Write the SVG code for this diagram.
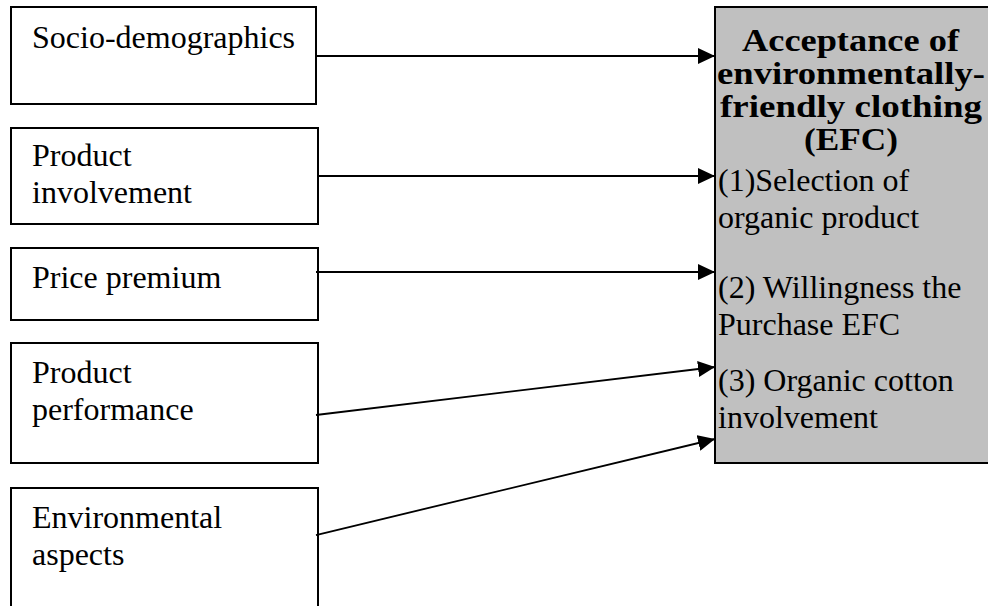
<svg xmlns="http://www.w3.org/2000/svg" width="988" height="606" viewBox="0 0 988 606">
  <style>
    .box { fill: #ffffff; stroke: #000000; stroke-width: 2; }
    .target { fill: #c0c0c0; stroke: #000000; stroke-width: 2; }
    .lbl { font-family: "Liberation Serif", "Times New Roman", serif; font-size: 32px; fill: #000000; }
    .title { font-family: "Liberation Serif", "Times New Roman", serif; font-size: 32px; font-weight: bold; fill: #000000; }
    .edge { fill: none; stroke: #000000; stroke-width: 1.8; marker-end: url(#arrow); }
  </style>
  <defs>
    <marker id="arrow" markerUnits="userSpaceOnUse" markerWidth="17" markerHeight="16" refX="17" refY="8" orient="auto">
      <path d="M0,0 L17,8 L0,16 Z" fill="#000000"/>
    </marker>
  </defs>
  <rect width="988" height="606" fill="#ffffff"/>

  <g id="socio-demographics">
    <rect class="box" x="11" y="7" width="305" height="97"/>
    <text class="lbl" x="32" y="48">Socio-demographics</text>
  </g>

  <g id="product-involvement">
    <rect class="box" x="11" y="128" width="307" height="96"/>
    <text class="lbl" x="32" y="166">Product</text>
    <text class="lbl" x="32" y="203">involvement</text>
  </g>

  <g id="price-premium">
    <rect class="box" x="11" y="248" width="307" height="72"/>
    <text class="lbl" x="32" y="288">Price premium</text>
  </g>

  <g id="product-performance">
    <rect class="box" x="11" y="343" width="307" height="120"/>
    <text class="lbl" x="32" y="383">Product</text>
    <text class="lbl" x="32" y="420">performance</text>
  </g>

  <g id="environmental-aspects">
    <rect class="box" x="11" y="488" width="307" height="130"/>
    <text class="lbl" x="32" y="528">Environmental</text>
    <text class="lbl" x="32" y="565">aspects</text>
  </g>

  <g id="efc-acceptance">
    <rect class="target" x="715" y="7" width="285" height="456"/>
    <!-- bold heading, set wide and tight-leaded -->
    <text class="title" x="742" y="51" textLength="217" lengthAdjust="spacingAndGlyphs">Acceptance of</text>
    <text class="title" x="717" y="84" textLength="268" lengthAdjust="spacingAndGlyphs">environmentally-</text>
    <text class="title" x="720" y="117" textLength="262" lengthAdjust="spacingAndGlyphs">friendly clothing</text>
    <text class="title" x="804" y="150" textLength="94" lengthAdjust="spacingAndGlyphs">(EFC)</text>
    <text class="lbl" x="718" y="191">(1)Selection of</text>
    <text class="lbl" x="718" y="228">organic product</text>
    <text class="lbl" x="718" y="298">(2) Willingness the</text>
    <text class="lbl" x="718" y="335">Purchase EFC</text>
    <text class="lbl" x="718" y="391">(3) Organic cotton</text>
    <text class="lbl" x="718" y="428">involvement</text>
  </g>

  <g id="connectors">
    <line class="edge" x1="316" y1="56" x2="715" y2="56"/>
    <line class="edge" x1="318" y1="176" x2="715" y2="176"/>
    <line class="edge" x1="316" y1="272" x2="715" y2="272"/>
    <line class="edge" x1="316" y1="415" x2="715" y2="367"/>
    <line class="edge" x1="316" y1="535" x2="715" y2="439"/>
  </g>
</svg>
